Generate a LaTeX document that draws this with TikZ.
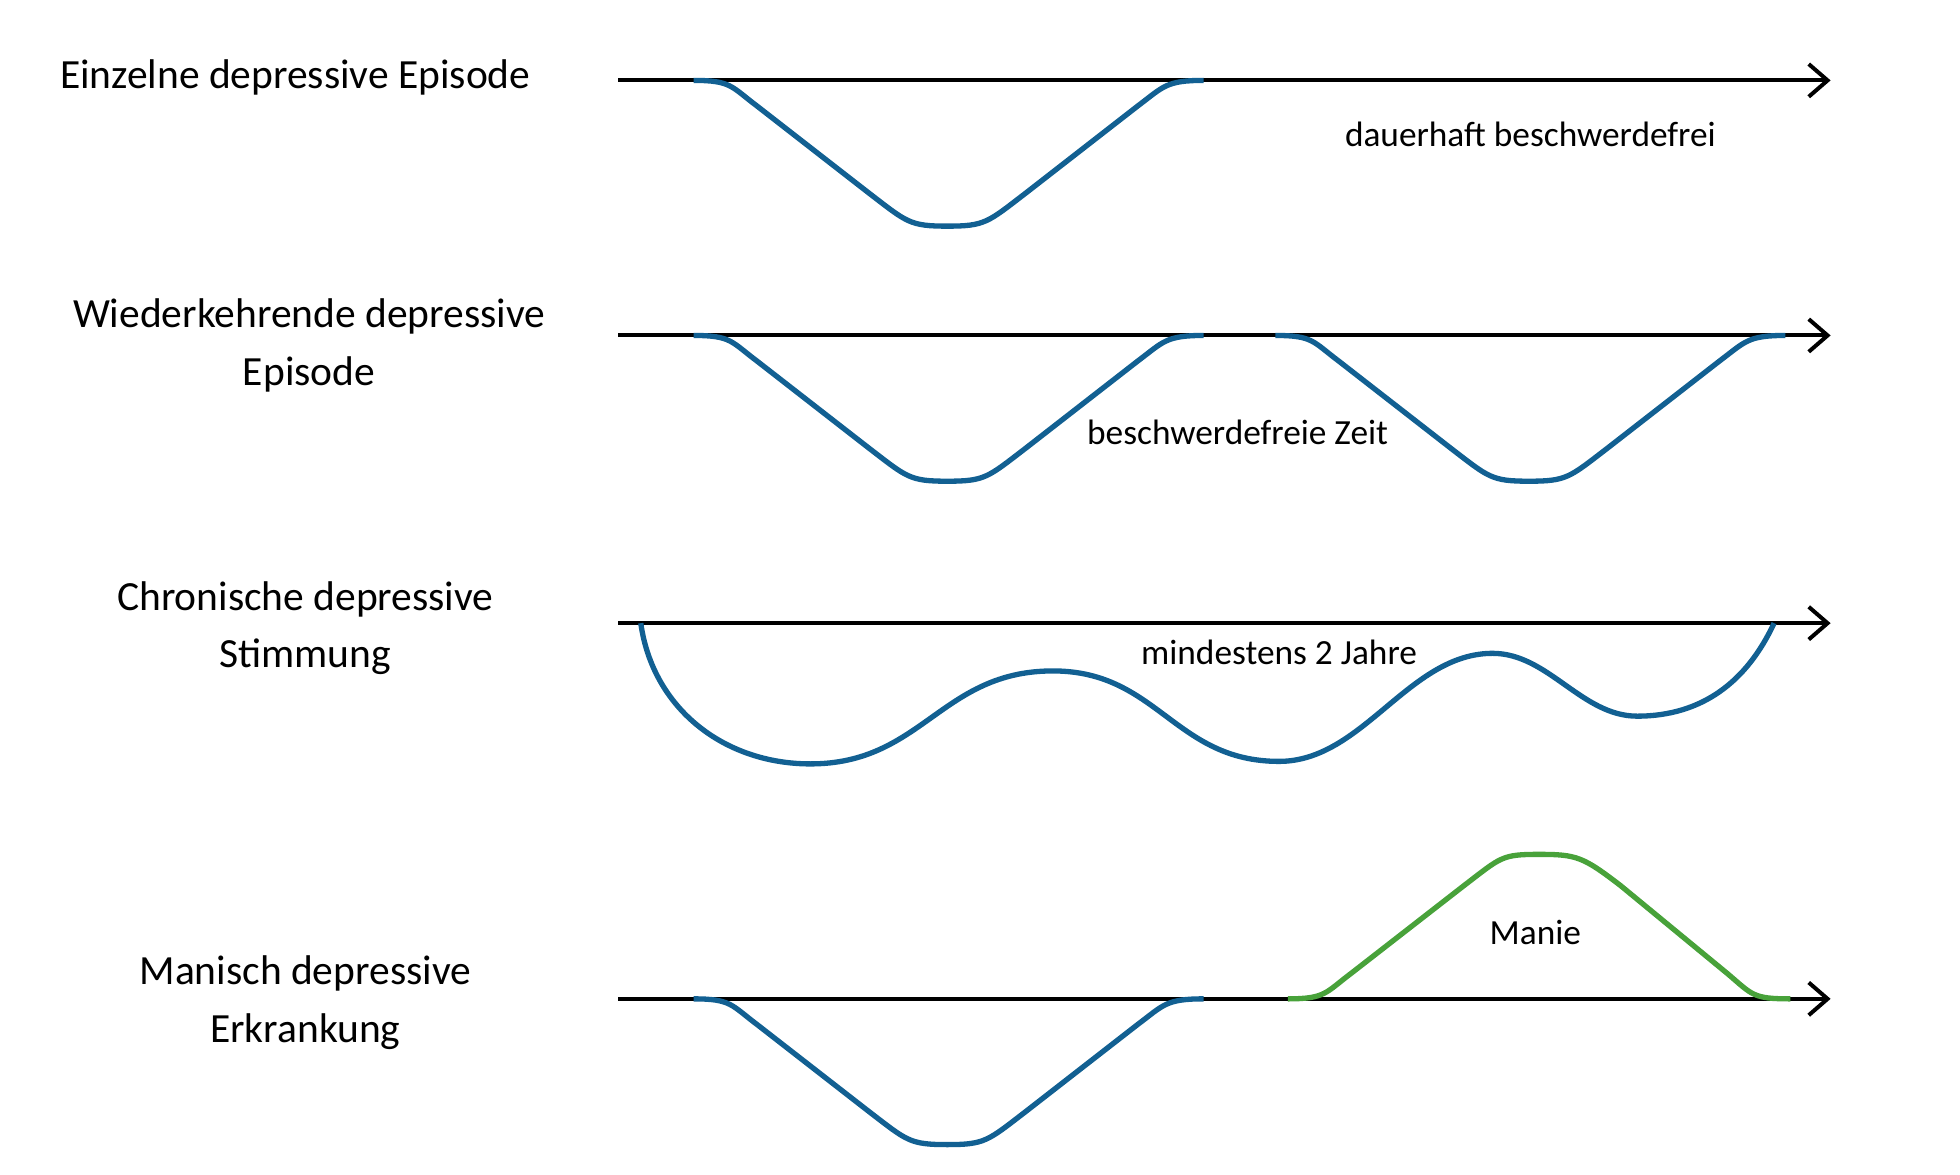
\documentclass[tikz,border=0pt]{standalone}
\usepackage{fontspec}
\setmainfont{Carlito}
\usetikzlibrary{arrows.meta}
\definecolor{dipblue}{RGB}{18,96,146}
\definecolor{maniagreen}{RGB}{72,162,58}
\begin{document}
\begin{tikzpicture}
    [
        axis/.style = {line width=0.9pt, -{Straight Barb[length=1.5mm,width=2.6mm,line width=0.9pt]}},
        course/.style = {line width=1.2pt, dipblue, line join=round},
        mania/.style = {line width=1.2pt, maniagreen, line join=round},
        title/.style = {font=\fontsize{9.4}{13}\selectfont, align=center},
        note/.style = {font=\fontsize{8}{9}\selectfont}
    ]
        \useasboundingbox (0,0) rectangle (15.6,9.35);

        % time axes
        \foreach \name/\y in {One/8.71, Two/6.68, Three/4.39, Four/1.40} {
            \coordinate (\name Start) at (4.92,\y);
            \coordinate (\name End) at (14.57,\y);
            \draw[axis] (\name Start) -- (\name End);
        }

        % left labels
        \node[title] (LabelOne) at (2.35,8.73) {Einzelne depressive Episode};
        \node[title] (LabelTwo) at (2.46,6.6) {Wiederkehrende depressive\\Episode};
        \node[title] (LabelThree) at (2.43,4.35) {Chronische depressive\\Stimmung};
        \node[title] (LabelFour) at (2.43,1.37) {Manisch depressive\\Erkrankung};

        % depressive episodes
        \foreach \x/\y in {5.52/8.71, 5.52/6.68, 10.15/6.68, 5.52/1.40} {
            \draw[course] (\x,\y) .. controls +(0.3,0) and +(-0.2,0.15) .. ++(0.5,-0.2)
                -- ++(0.9,-0.7) .. controls +(0.3,-0.23) and +(-0.3,0) .. ++(0.62,-0.26)
                .. controls +(0.3,0) and +(-0.3,-0.23) .. ++(0.62,0.26)
                -- ++(0.9,0.7) .. controls +(0.2,0.15) and +(-0.3,0) .. ++(0.52,0.2);
        }

        % chronic course
        \draw[course] (5.10,4.39) to[out=-82,in=180] (6.45,3.27)
            to[out=0,in=180,looseness=1.1] (8.38,4.01)
            to[out=0,in=180,looseness=1.1] (10.18,3.29)
            to[out=0,in=180,looseness=0.9] (11.88,4.15)
            to[out=0,in=180,looseness=0.9] (13.03,3.65)
            to[out=0,in=-115] (14.12,4.39);

        % mania
        \draw[mania] (10.25,1.40) .. controls +(0.3,0) and +(-0.2,-0.15) .. ++(0.5,0.2)
            -- ++(0.9,0.7) .. controls +(0.3,0.23) and +(-0.3,0) .. ++(0.6,0.25)
            .. controls +(0.3,0) and +(-0.3,0.23) .. ++(0.65,-0.25)
            -- ++(0.85,-0.7) .. controls +(0.2,-0.17) and +(-0.3,0) .. ++(0.5,-0.2);

        % notes
        \node[note] (NoteOne) at (12.18,8.28) {dauerhaft beschwerdefrei};
        \node[note] (NoteTwo) at (9.85,5.91) {beschwerdefreie Zeit};
        \node[note] (NoteThree) at (10.18,4.16) {mindestens 2 Jahre};
        \node[note] (NoteFour) at (12.22,1.93) {Manie};
    \end{tikzpicture}
\end{document}
